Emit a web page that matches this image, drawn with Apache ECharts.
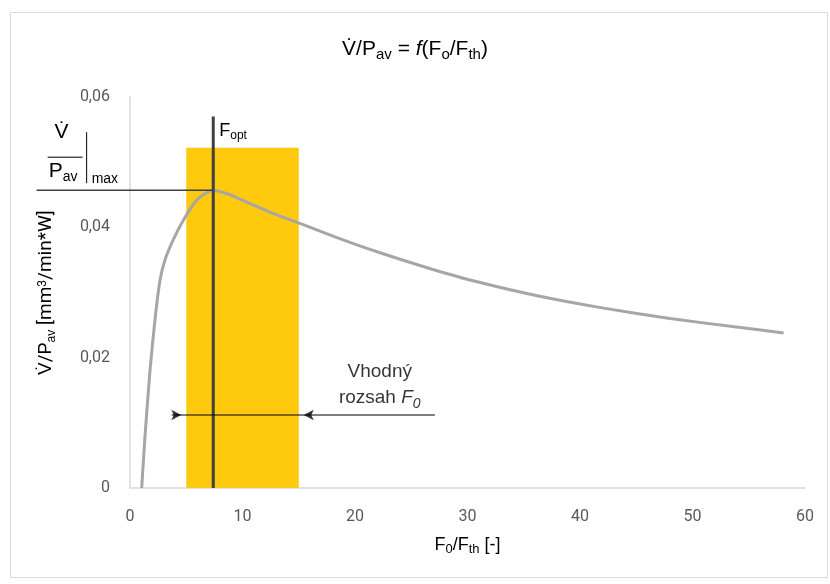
<!DOCTYPE html>
<html>
<head>
<meta charset="utf-8">
<script src="https://cdn.jsdelivr.net/npm/echarts@6/dist/echarts.min.js"></script>
<style>
  html, body { margin: 0; padding: 0; background: #fff; }
  #chart { width: 830px; height: 584px; }
</style>
</head>
<body>
<div id="chart"></div>
<script>
// F0/Fth ratio and V/Pav
const ratio = [1.04, 1.33, 1.78, 2.22, 2.67, 3.11, 3.85, 4.74, 5.93, 6.81, 7.4, 8.9, 9.8, 12.2, 15.1, 18.1, 21.0, 24.0, 27.0, 30.5, 36.2, 42.1, 48.0, 53.9, 58.1]
const rate = [0, 0.0079, 0.0181, 0.0258, 0.0319, 0.035, 0.0381, 0.0411, 0.0442, 0.0453, 0.0457, 0.045, 0.0443, 0.0425, 0.0406, 0.0386, 0.0368, 0.0351, 0.0335, 0.0318, 0.0295, 0.0276, 0.026, 0.0247, 0.0238]

const xTicks = [0, 10, 20, 30, 40, 50, 60]
const yTicks = [0, 0.02, 0.04, 0.06]

// annotations
const rangeF0 = [5, 15]          // suitable F0 range (yellow band)
const bandTop = 0.0522
const optF = 7.4                 // F_opt
const optTop = 0.057
const maxRate = 0.0457           // V/Pav max
const maxLineFrom = -8.3
const rangeArrowY = 0.0112
const rangeLine = [3.7, 27.1]
const rangeLabelAt = [22.2, 0.0112]

const tickFont = "'Liberation Sans Narrow', Roboto, sans-serif"
const textFont = "'Liberation Sans', Arial, sans-serif"

const chart = echarts.init(document.getElementById('chart'))

const txt = (size, extra) => Object.assign({ fontSize: size, fontFamily: textFont, color: '#000', fontWeight: 'normal' }, extra || {})
const sub = (size, pad) => txt(size, { verticalAlign: 'bottom', padding: [0, 0, pad, 0] })

const option = {
  animation: false,
  backgroundColor: '#fff',
  title: {
    text: '{a|V̇/P}{s|av}{a| = }{i|f}{a|(F}{s|o}{a|/F}{s|th}{a|)}',
    left: 'center',
    top: 34,
    textStyle: {
      fontWeight: 'normal',
      rich: {
        a: txt(21),
        i: txt(21, { fontStyle: 'italic' }),
        s: sub(15, -2)
      }
    }
  },
  grid: { left: 130, right: 25, top: 97, bottom: 96 },
  xAxis: {
    type: 'value',
    min: xTicks[0],
    max: xTicks[xTicks.length - 1],
    interval: 10,
    name: '{a|F}{s|0}{a|/F}{s|th}{a| [-]}',
    nameLocation: 'middle',
    nameGap: 48,
    nameTextStyle: {
      rich: {
        a: txt(18),
        s: sub(13, -2)
      }
    },
    axisLine: { lineStyle: { color: '#d9d9d9', width: 1.5 } },
    axisTick: { show: false },
    splitLine: { show: false },
    axisLabel: { color: '#595959', fontSize: 16, fontFamily: tickFont, margin: 21 }
  },
  yAxis: {
    type: 'value',
    min: yTicks[0],
    max: yTicks[yTicks.length - 1],
    interval: 0.02,
    name: '{a|V̇/P}{s|av}{a| [mm}{p|3}{a|/min*W]}',
    nameLocation: 'middle',
    nameRotate: 90,
    nameGap: 74,
    nameTextStyle: {
      rich: {
        a: txt(19, { fontFamily: tickFont }),
        s: sub(12, -2),
        p: txt(12, { fontFamily: tickFont, verticalAlign: 'top' })
      }
    },
    axisLine: { show: true, lineStyle: { color: '#d9d9d9', width: 1.5 } },
    axisTick: { show: false },
    splitLine: { show: false },
    axisLabel: {
      color: '#595959', fontSize: 16, fontFamily: tickFont, margin: 20,
      formatter: v => (v === 0 ? '0' : v.toFixed(2).replace('.', ','))
    }
  },
  series: [
    {
      type: 'line',
      data: [],
      markArea: {
        silent: true,
        itemStyle: { color: '#ffc90e' },
        data: [[{ coord: [rangeF0[0], 0] }, { coord: [rangeF0[1], bandTop] }]]
      }
    },
    {
      type: 'line',
      data: ratio.map((x, i) => [x, rate[i]]),
      smooth: 0.2,
      showSymbol: false,
      lineStyle: { color: '#a6a6a6', width: 3 },
      z: 3
    },
    {
      type: 'line',
      data: [[optF, 0], [optF, optTop]],
      showSymbol: false,
      lineStyle: { color: '#404040', width: 3 },
      endLabel: {
        show: true,
        formatter: '{a|F}{s|opt}',
        offset: [-2, 14],
        rich: {
          a: txt(18),
          s: sub(12, -2)
        }
      },
      z: 4
    },
    {
      type: 'line',
      data: [[rangeLine[0], rangeArrowY], [rangeLine[1], rangeArrowY]],
      showSymbol: false,
      lineStyle: { color: '#000', width: 1.2 },
      z: 5
    },
    {
      type: 'scatter',
      data: [
        { value: [rangeF0[0], rangeArrowY], symbolRotate: -90, symbolOffset: [-5, 0] },
        { value: [rangeF0[1], rangeArrowY], symbolRotate: 90, symbolOffset: [5, 0] }
      ],
      symbol: 'arrow',
      symbolSize: [8, 10],
      itemStyle: { color: '#000' },
      z: 5
    },
    {
      type: 'scatter',
      data: [{ value: rangeLabelAt }],
      symbolSize: 0,
      label: {
        show: true,
        position: 'top',
        distance: 4,
        align: 'center',
        formatter: '{a|Vhodný}\n{a|rozsah }{i|F}{is|0}',
        rich: {
          a: txt(19, { lineHeight: 26 }),
          i: txt(19, { fontStyle: 'italic', lineHeight: 26 }),
          is: txt(14, { fontStyle: 'italic', verticalAlign: 'bottom', lineHeight: 26 })
        }
      },
      z: 6
    }
  ]
}

chart.setOption(option)

// V/Pav|max line and label, reaching outside the plot, placed from data coords
const p = chart.convertToPixel({ gridIndex: 0 }, [maxLineFrom, maxRate])
const q = chart.convertToPixel({ gridIndex: 0 }, [optF, maxRate])
chart.setOption({
  graphic: [
    { type: 'rect', shape: { x: 10.5, y: 12.5, width: 817, height: 565 }, style: { fill: null, stroke: '#d9d9d9', lineWidth: 1 }, silent: true },
    { type: 'line', shape: { x1: p[0], y1: p[1], x2: q[0], y2: q[1] }, style: { stroke: '#404040', lineWidth: 1.5 }, z: 10 },
    {
      type: 'group', x: p[0], y: p[1],
      children: [
        { type: 'text', x: 25, y: -58, style: { text: 'V̇', fontSize: 21, fontFamily: textFont, fill: '#000', align: 'center', verticalAlign: 'middle' } },
        { type: 'line', shape: { x1: 11, y1: -33, x2: 46, y2: -33 }, style: { stroke: '#000', lineWidth: 1 } },
        { type: 'text', x: 12, y: -29, style: { rich: { a: { fontSize: 21, fontFamily: textFont, fill: '#000' }, s: { fontSize: 14, fontFamily: textFont, fill: '#000', verticalAlign: 'bottom', padding: [0, 0, -2, 0] } }, text: '{a|P}{s|av}', verticalAlign: 'top' } },
        { type: 'line', shape: { x1: 50, y1: -58, x2: 50, y2: -7 }, style: { stroke: '#000', lineWidth: 1 } },
        { type: 'text', x: 55, y: -4, style: { text: 'max', fontSize: 14, fontFamily: textFont, fill: '#000', verticalAlign: 'bottom' } }
      ]
    }
  ]
})

window.addEventListener('resize', () => chart.resize())
</script>
</body>
</html>
